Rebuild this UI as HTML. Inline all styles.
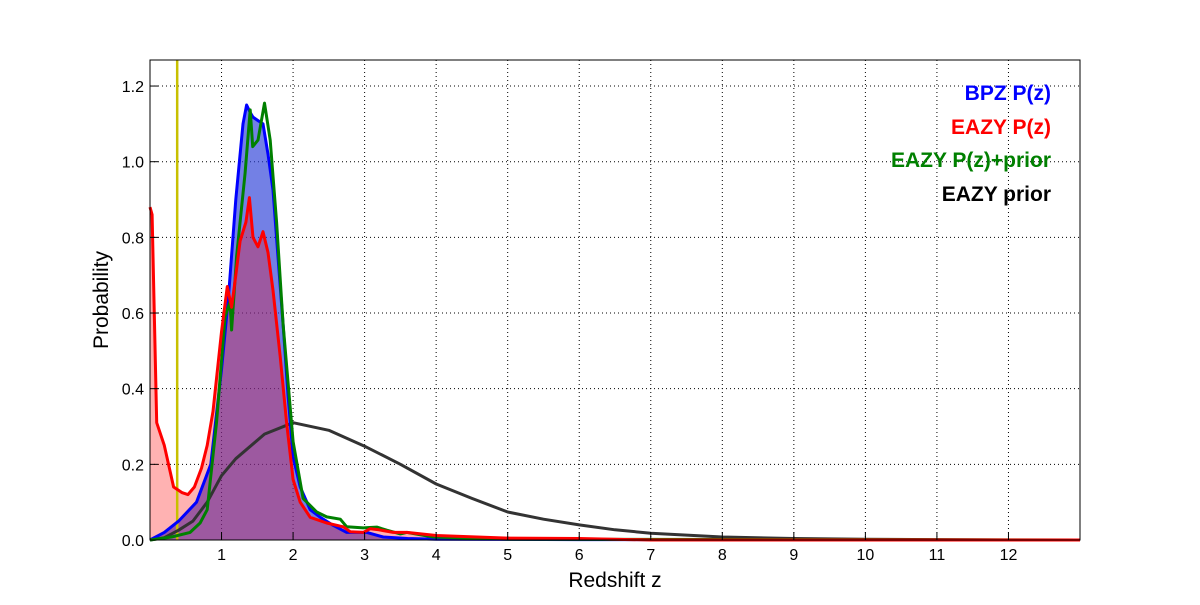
<!DOCTYPE html>
<html><head><meta charset="utf-8"><style>
body{margin:0;background:#fff}
svg text{font-family:"Liberation Sans",sans-serif}
</style></head><body>
<svg id="chart" width="1200" height="600">
<rect width="1200" height="600" fill="#fff"/>
<g id="grid"></g>
<g id="fills"></g>
<g id="lines"></g>
<rect x="150" y="60" width="930" height="480" fill="none" stroke="#000" stroke-width="1"/>
<g id="ticks"></g>
<text x="615" y="587" font-size="21" text-anchor="middle">Redshift z</text>
<text x="108" y="300" font-size="21" text-anchor="middle" transform="rotate(-90 108 300)">Probability</text>
<g font-size="21" font-weight="bold" text-anchor="end">
<text x="1051" y="100" fill="#0000ff">BPZ P(z)</text>
<text x="1051" y="134" fill="#ff0000">EAZY P(z)</text>
<text x="1051" y="167" fill="#008000">EAZY P(z)+prior</text>
<text x="1051" y="201" fill="#000">EAZY prior</text>
</g>
</svg>
<script>
const xTicks=[1,2,3,4,5,6,7,8,9,10,11,12];
const yTicks=[0,0.2,0.4,0.6,0.8,1.0,1.2];
const markerZ=0.38;
const bpzZ=[0,0.2,0.4,0.65,0.85,1.0,1.1,1.2,1.3,1.35,1.4,1.44,1.5,1.58,1.65,1.72,1.8,1.86,1.93,2.0,2.1,2.24,2.38,2.55,2.75,3.03,3.26,3.6,4,6,10,13];
const bpzP=[0,0.02,0.05,0.1,0.2,0.45,0.65,0.9,1.1,1.15,1.13,1.118,1.11,1.10,1.02,0.925,0.72,0.57,0.38,0.22,0.14,0.08,0.06,0.04,0.02,0.02,0.008,0.004,0.002,0.001,0,0];
const eazyZ=[0,0.03,0.093,0.2,0.33,0.45,0.53,0.62,0.72,0.8,0.88,1.0,1.08,1.14,1.2,1.26,1.34,1.39,1.44,1.51,1.58,1.65,1.72,1.82,1.91,2.0,2.1,2.24,2.47,2.7,2.8,2.98,3.08,3.2,3.4,3.59,4.0,5,6,7,13];
const eazyP=[0.88,0.86,0.31,0.25,0.14,0.125,0.12,0.14,0.19,0.25,0.34,0.55,0.67,0.615,0.7,0.79,0.84,0.905,0.8,0.775,0.815,0.76,0.66,0.485,0.31,0.16,0.1,0.06,0.045,0.035,0.022,0.02,0.03,0.027,0.02,0.02,0.012,0.005,0.004,0,0];
const combZ=[0,0.3,0.56,0.7,0.8,0.93,1.05,1.12,1.14,1.21,1.33,1.40,1.435,1.51,1.6,1.68,1.77,1.86,2.0,2.14,2.33,2.47,2.66,2.75,2.98,3.17,3.31,3.5,3.59,3.96,5,13];
const combP=[0,0.008,0.02,0.045,0.08,0.31,0.59,0.63,0.555,0.75,0.97,1.137,1.04,1.057,1.155,1.057,0.84,0.57,0.26,0.11,0.074,0.061,0.055,0.035,0.032,0.034,0.026,0.016,0.02,0.008,0.002,0];
const priorZ=[0,0.2,0.4,0.6,0.8,1.0,1.2,1.6,2.0,2.5,3.0,3.5,4.0,4.5,5.0,5.5,6,6.5,7,8,9,10,12,13];
const priorP=[0,0.006,0.026,0.05,0.1,0.17,0.215,0.28,0.31,0.29,0.248,0.2,0.148,0.11,0.074,0.055,0.04,0.027,0.018,0.008,0.004,0.002,0,0];
const X=z=>150+z*930/13, Y=p=>540-p*378.3;
const NS='http://www.w3.org/2000/svg';
function mk(tag,attrs,parent){const e=document.createElementNS(NS,tag);for(const k in attrs)e.setAttribute(k,attrs[k]);parent.appendChild(e);return e;}
const grid=document.getElementById('grid'),ticks=document.getElementById('ticks'),fills=document.getElementById('fills'),lines=document.getElementById('lines');
xTicks.forEach(t=>{
 const g=mk('line',{x1:X(t),x2:X(t),y1:60,y2:540,stroke:'#000','stroke-dasharray':'1,3','stroke-width':1},grid);
 
 
 const tk=mk('line',{x1:X(t),x2:X(t),y1:540,y2:532,stroke:'#000'},ticks);
 
 
 const tx=mk('text',{x:X(t),y:560,'font-size':16,'text-anchor':'middle'},ticks);
 tx.textContent=t;
 
 
});
yTicks.forEach(t=>{
 const g=mk('line',{x1:150,x2:1080,y1:Y(t),y2:Y(t),stroke:'#000','stroke-dasharray':'1,3','stroke-width':1},grid);
 
 
 const tk=mk('line',{x1:150,x2:158,y1:Y(t),y2:Y(t),stroke:'#000'},ticks);
 
 
 const tx=mk('text',{x:144,y:Y(t)+6,'font-size':16,'text-anchor':'end'},ticks);
 tx.textContent=t.toFixed(1);
 
 
});
function pathD(zs,ps){return zs.map((z,i)=>(i?'L':'M')+X(z).toFixed(1)+','+Y(ps[i]).toFixed(1)).join('');}
function fillD(zs,ps){return pathD(zs,ps)+'L'+X(zs[zs.length-1])+','+Y(0)+'L'+X(zs[0])+','+Y(0)+'Z';}
const bf=mk('path',{d:fillD(bpzZ,bpzP),fill:'rgba(40,60,215,0.65)'},fills);


const rf=mk('path',{d:fillD(eazyZ,eazyP),fill:'rgba(255,0,0,0.3)'},fills);


const ym=mk('line',{x1:X(markerZ),x2:X(markerZ),y1:60,y2:540,stroke:'#c8c000','stroke-width':2.5},lines);


const series=[[priorZ,priorP,'#333','eazy-prior-line'],[bpzZ,bpzP,'#0000ff','bpz-line'],[combZ,combP,'#008000','eazy-prior-combined-line'],[eazyZ,eazyP,'#ff0000','eazy-line']];
series.forEach(s=>{
 const p=mk('path',{d:pathD(s[0],s[1]),fill:'none',stroke:s[2],'stroke-width':3,'stroke-linejoin':'round'},lines);
 
 
});
</script>
</body></html>
